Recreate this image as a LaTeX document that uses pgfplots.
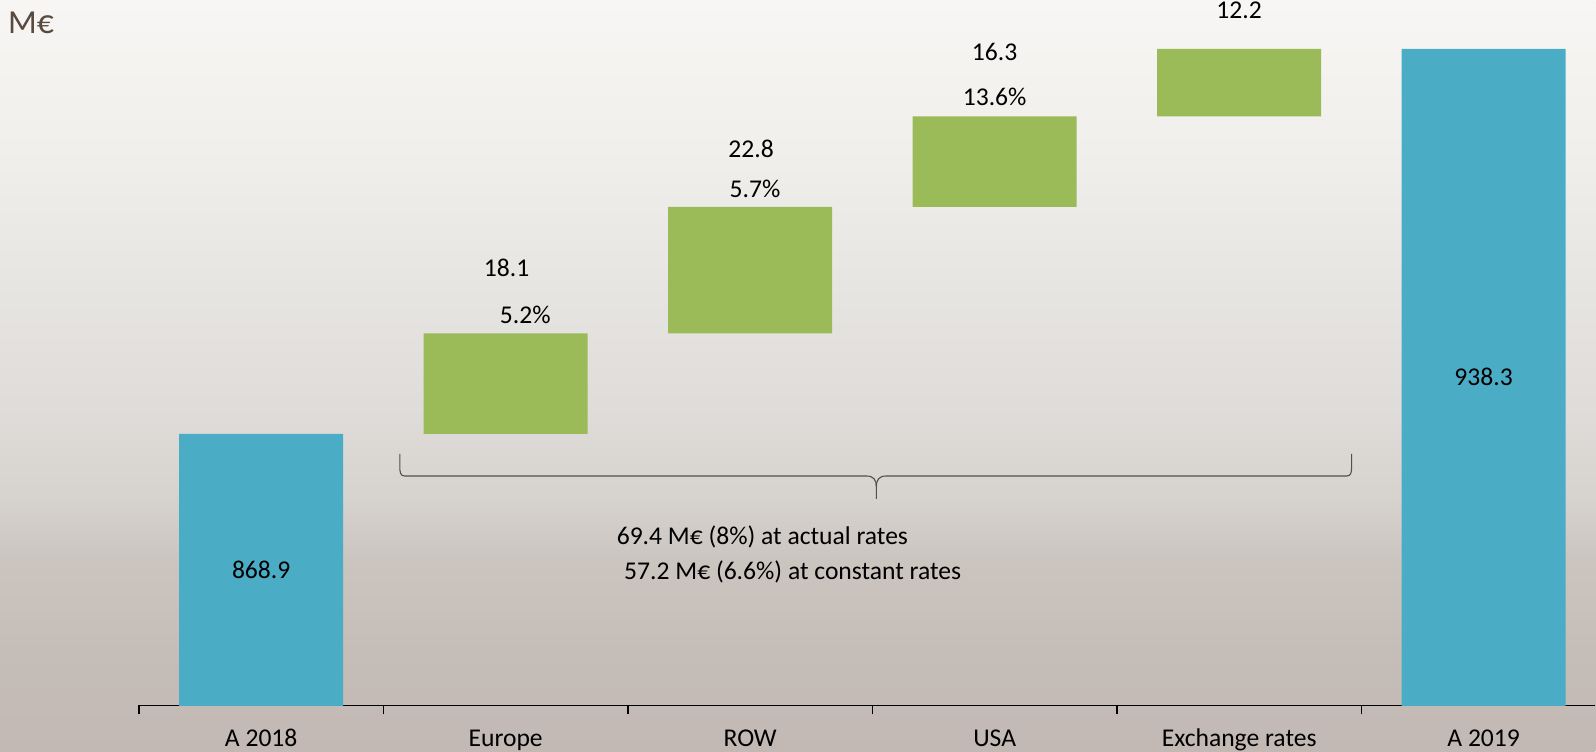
\documentclass[border=0pt]{standalone}
\usepackage{fontspec}
\setmainfont{Carlito}
\usepackage{pgfplots}
\pgfplotsset{compat=1.18}
\definecolor{bgreen}{HTML}{9BBB59}
\definecolor{bblue}{HTML}{4BACC6}
\definecolor{mcol}{HTML}{594A3F}
\definecolor{brcol}{HTML}{505050}
\definecolor{c0}{HTML}{C3B9B4}
\definecolor{c1}{HTML}{C5BDB8}
\definecolor{c2}{HTML}{CBC5C0}
\definecolor{c3}{HTML}{D6D2CE}
\definecolor{c4}{HTML}{DEDBD8}
\definecolor{c5}{HTML}{E6E4E0}
\definecolor{c6}{HTML}{F0EFEC}
\definecolor{c7}{HTML}{F7F6F4}
\newcommand\lblfont{\fontsize{12.8pt}{15pt}\selectfont}
\begin{document}
\begin{tikzpicture}
\shade[top color=c7, bottom color=c6] (-69.5pt,277.5pt) rectangle (728.5pt,352.75pt);
\shade[top color=c6, bottom color=c5] (-69.5pt,202.5pt) rectangle (728.5pt,278pt);
\shade[top color=c5, bottom color=c4] (-69.5pt,142.5pt) rectangle (728.5pt,203pt);
\shade[top color=c4, bottom color=c3] (-69.5pt,102.5pt) rectangle (728.5pt,143pt);
\shade[top color=c3, bottom color=c2] (-69.5pt,72.5pt) rectangle (728.5pt,103pt);
\shade[top color=c2, bottom color=c1] (-69.5pt,27.5pt) rectangle (728.5pt,73pt);
\shade[top color=c1, bottom color=c0] (-69.5pt,-23.25pt) rectangle (728.5pt,28pt);
\begin{axis}[
  at={(0pt,0pt)}, anchor=south west,
  scale only axis, width=728.5pt, height=352.75pt,
  xmin=-0.5, xmax=5.457, ymin=820, ymax=947.1,
  axis x line*=bottom, axis y line=none,
  x axis line style={-, black, line width=0.65pt},
  xtick={0,1,2,3,4,5},
  xticklabels={A 2018, Europe, ROW, USA, Exchange rates, A 2019},
  major tick length=0pt,
  minor xtick={-0.5,0.5,1.5,2.5,3.5,4.5},
  minor tick length=4.5pt,
  tick align=outside,
  every minor tick/.style={black, line width=0.6pt},
  xticklabel style={font=\lblfont, text=black, anchor=base, inner sep=0pt, yshift=-20.6pt},
  ybar stacked, bar width=82pt,
  clip bounding box=upper bound,
]
\addplot[draw=none, fill=none] coordinates {(0,0) (1,868.9) (2,887.0) (3,909.8) (4,926.1) (5,0)};
\addplot[draw=none, fill=bgreen] coordinates {(0,0) (1,18.1) (2,22.8) (3,16.3) (4,12.2) (5,0)};
\addplot[draw=none, fill=bblue] coordinates {(0,868.9) (1,0) (2,0) (3,0) (4,0) (5,938.3)};
\coordinate (lA) at (axis cs:0,844.45);
\coordinate (lB) at (axis cs:5,879.15);
\node[font=\lblfont] at (axis cs:1.004,898.9) {18.1};
\node[font=\lblfont] at (axis cs:1.08,890.3) {5.2\%};
\node[font=\lblfont] at (axis cs:2.004,920.2) {22.8};
\node[font=\lblfont] at (axis cs:2.02,913.0) {5.7\%};
\node[font=\lblfont] at (axis cs:3.0,937.8) {16.3};
\node[font=\lblfont] at (axis cs:3.0,929.7) {13.6\%};
\node[font=\lblfont] at (axis cs:4.0,945.3) {12.2};
\draw[brcol, line width=0.55pt]
  (axis cs:0.567,865.3) -- (axis cs:0.567,863.0)
  .. controls (axis cs:0.567,862.0) and (axis cs:0.569,861.3) .. (axis cs:0.587,861.3)
  -- (axis cs:2.476,861.3)
  .. controls (axis cs:2.505,861.3) and (axis cs:2.516,860.6) .. (axis cs:2.516,859.4)
  -- (axis cs:2.516,857.2);
\draw[brcol, line width=0.55pt]
  (axis cs:2.516,859.4)
  .. controls (axis cs:2.516,860.6) and (axis cs:2.527,861.3) .. (axis cs:2.556,861.3)
  -- (axis cs:4.440,861.3)
  .. controls (axis cs:4.458,861.3) and (axis cs:4.460,862.0) .. (axis cs:4.460,863.0)
  -- (axis cs:4.460,865.3);
\node[font=\lblfont] at (axis cs:2.05,850.3) {69.4 M€ (8\%) at actual rates};
\node[font=\lblfont] at (axis cs:2.174,844.0) {57.2 M€ (6.6\%) at constant rates};
\end{axis}
\node[font=\lblfont] at (lA) {868.9};
\node[font=\lblfont] at (lB) {938.3};
\node[font=\fontsize{16.8pt}{20pt}\selectfont, text=mcol, inner sep=0pt] at (-54pt,341.25pt) {M€};
\end{tikzpicture}
\end{document}
